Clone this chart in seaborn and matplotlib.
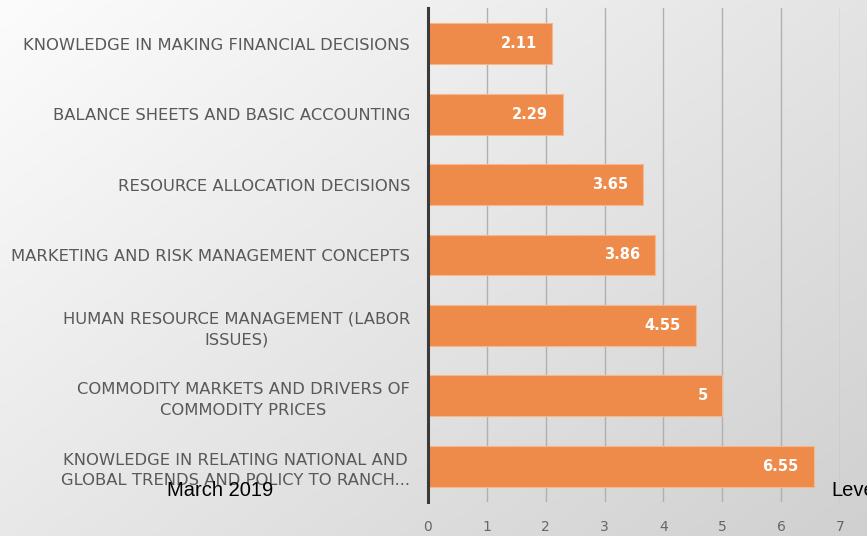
import numpy as np
import pandas as pd
import matplotlib
matplotlib.use("Agg")
import matplotlib.pyplot as plt
import seaborn as sns

categories = [
    "KNOWLEDGE IN MAKING FINANCIAL DECISIONS",
    "BALANCE SHEETS AND BASIC ACCOUNTING",
    "RESOURCE ALLOCATION DECISIONS",
    "MARKETING AND RISK MANAGEMENT CONCEPTS",
    "HUMAN RESOURCE MANAGEMENT (LABOR\nISSUES)",
    "COMMODITY MARKETS AND DRIVERS OF\nCOMMODITY PRICES",
    "KNOWLEDGE IN RELATING NATIONAL AND\nGLOBAL TRENDS AND POLICY TO RANCH...",
]
scores = [2.11, 2.29, 3.65, 3.86, 4.55, 5, 6.55]
value_labels = ["2.11", "2.29", "3.65", "3.86", "4.55", "5", "6.55"]
x_ticks = [0, 1, 2, 3, 4, 5, 6, 7]

df = pd.DataFrame({"topic": categories, "score": scores})

sns.set_theme(style="white")
plt.rcParams["font.family"] = ["DejaVu Sans"]

fig = plt.figure(figsize=(8.67, 5.36), dpi=100)

# soft diagonal gradient backdrop
bg = fig.add_axes([0, 0, 1, 1], zorder=-10)
gx, gy = np.meshgrid(np.linspace(0, 1, 300), np.linspace(0, 1, 300))
grad = 0.55 * gx + 0.45 * gy
bg.imshow(grad, cmap=matplotlib.colors.LinearSegmentedColormap.from_list(
    "bgfade", ["#fcfcfc", "#d0d0d0"]), aspect="auto", extent=[0, 1, 0, 1],
    origin="upper", vmin=0, vmax=1)
bg.set_axis_off()

ax = fig.add_axes([428 / 867, 34 / 536, 412 / 867, 494 / 536])
ax.patch.set_alpha(0)

sns.barplot(data=df, y="topic", x="score", orient="h", color="#EE8B4B",
            saturation=1, width=0.58, edgecolor="#f6b78c", linewidth=0.8,
            ax=ax, zorder=3)

ax.set_xlim(0, 7)
ax.set_ylim(6.51, -0.51)
ax.set_xticks(x_ticks)
ax.set_xticklabels([str(t) for t in x_ticks])
ax.grid(axis="x", color="#b0b0b0", linewidth=1.0, zorder=0)
ax.set_axisbelow(True)
ax.set_xlabel("")
ax.set_ylabel("")

for s in ["top", "right", "bottom"]:
    ax.spines[s].set_visible(False)
ax.spines["left"].set_color("#3a3a3a")
ax.spines["left"].set_linewidth(2.2)
ax.spines["left"].set_zorder(5)

ax.tick_params(axis="x", length=0, pad=13, labelsize=10, labelcolor="#666666")
ax.tick_params(axis="y", length=0, pad=13)
for lab in ax.get_yticklabels():
    lab.set_fontsize(11.8)
    lab.set_color("#595959")
    lab.set_multialignment("center")
    lab.set_linespacing(1.45)

for i, (v, txt) in enumerate(zip(scores, value_labels)):
    ax.text(v - 0.25, i, txt, ha="right", va="center", color="white",
            fontsize=10.5, fontweight="bold", zorder=6)

fig.text(167 / 867, 1 - 490 / 536, "March 2019", fontsize=14.5, color="black",
         va="center", ha="left", family=["Liberation Sans", "DejaVu Sans"])
fig.text(831 / 867, 1 - 490 / 536, "Level", fontsize=14.5, color="black",
         va="center", ha="left", family=["Liberation Sans", "DejaVu Sans"])

fig.savefig("out.png", dpi=100)
